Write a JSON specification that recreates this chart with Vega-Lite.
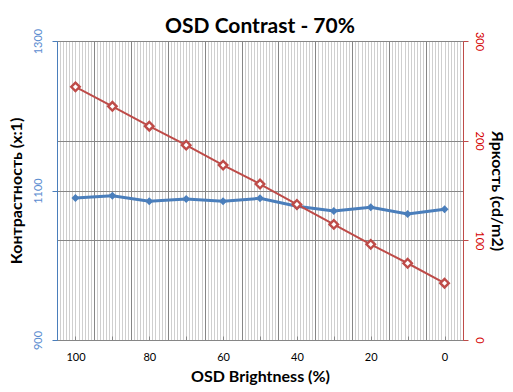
{
  "$schema": "https://vega.github.io/schema/vega-lite/v6.json",
  "width": 406,
  "height": 299,
  "autosize": {"type": "none"},
  "padding": {"left": 57, "top": 41, "right": 50, "bottom": 52},
  "background": "white",
  "title": {"text": "OSD Contrast - 70%", "font": "Lato", "fontSize": 21, "fontWeight": "bold", "color": "black", "offset": -9, "anchor": "middle"},
  "config": {"view": {"stroke": null}, "axis": {"labelFont": "Lato", "titleFont": "Lato", "labelFontSize": 11}},
  "data": {"values": [
    {"b": 100, "contrast": 1090, "brightness": 254},
    {"b": 90, "contrast": 1093, "brightness": 234.5},
    {"b": 80, "contrast": 1085.5, "brightness": 214.5},
    {"b": 70, "contrast": 1088.5, "brightness": 195.5},
    {"b": 60, "contrast": 1085.5, "brightness": 175.5},
    {"b": 50, "contrast": 1089.5, "brightness": 156.5},
    {"b": 40, "contrast": 1079, "brightness": 136},
    {"b": 30, "contrast": 1072.5, "brightness": 116},
    {"b": 20, "contrast": 1077.5, "brightness": 96},
    {"b": 10, "contrast": 1068.5, "brightness": 77},
    {"b": 0, "contrast": 1075, "brightness": 57}
  ]},
  "layer": [
    {
      "mark": {"type": "line", "color": "#4a7ebb", "strokeWidth": 3, "point": {"shape": "diamond", "size": 64, "filled": true, "color": "#4a7ebb"}},
      "encoding": {
        "x": {"field": "b", "type": "quantitative", "scale": {"domain": [-5, 105], "reverse": true, "nice": false, "zero": false},
          "axis": {"orient": "bottom", "grid": true, "gridColor": "#cfcfcf", "gridWidth": 1, "labels": false, "ticks": false, "domain": false, "title": null,
            "values": [-4.17,-3.33,-2.5,-1.67,-0.83,0,0.83,1.67,2.5,3.33,4.17,
              5.83,6.67,7.5,8.33,9.17,10,10.83,11.67,12.5,13.33,14.17,
              15.83,16.67,17.5,18.33,19.17,20,20.83,21.67,22.5,23.33,24.17,
              25.83,26.67,27.5,28.33,29.17,30,30.83,31.67,32.5,33.33,34.17,
              35.83,36.67,37.5,38.33,39.17,40,40.83,41.67,42.5,43.33,44.17,
              45.83,46.67,47.5,48.33,49.17,50,50.83,51.67,52.5,53.33,54.17,
              55.83,56.67,57.5,58.33,59.17,60,60.83,61.67,62.5,63.33,64.17,
              65.83,66.67,67.5,68.33,69.17,70,70.83,71.67,72.5,73.33,74.17,
              75.83,76.67,77.5,78.33,79.17,80,80.83,81.67,82.5,83.33,84.17,
              85.83,86.67,87.5,88.33,89.17,90,90.83,91.67,92.5,93.33,94.17,
              95.83,96.67,97.5,98.33,99.17,100,100.83,101.67,102.5,103.33,104.17]}},
        "y": {"field": "contrast", "type": "quantitative", "scale": {"domain": [900, 1300], "nice": false, "zero": false},
          "axis": {"orient": "left", "values": [900, 1100, 1300], "format": "d", "grid": true, "gridColor": "#868686", "labelAngle": 270, "labelColor": "#5b8cd0", "labelPadding": 9,
            "domainColor": "#4a7ebb", "tickColor": "#4a7ebb", "tickSize": 5,
            "title": "Контрастность (x:1)", "titleFontSize": 16, "titleFontWeight": "bold", "titleColor": "black", "titlePadding": 8}}
      }
    },
    {
      "mark": {"type": "line", "color": "#be4b48", "strokeWidth": 2, "point": {"shape": "diamond", "size": 72, "filled": true, "fill": "white", "stroke": "#be4b48", "strokeWidth": 2.4}},
      "encoding": {
        "x": {"field": "b", "type": "quantitative",
          "axis": {"orient": "bottom", "values": [105,100,95,90,85,80,75,70,65,60,55,50,45,40,35,30,25,20,15,10,5,0,-5],
            "grid": true, "gridColor": {"condition": {"test": "datum.value % 10 != 0", "value": "#868686"}, "value": "transparent"},
            "tickColor": {"condition": {"test": "datum.value % 10 == 0", "value": "#868686"}, "value": "transparent"},
            "tickSize": -4, "labelPadding": 15, "labelColor": "black",
            "labelExpr": "datum.value % 20 == 0 ? datum.label : ''",
            "domainColor": "#868686",
            "title": "OSD Brightness (%)", "titleFontSize": 16, "titleFontWeight": "bold", "titleColor": "black", "titlePadding": 6}},
        "y": {"field": "brightness", "type": "quantitative", "scale": {"domain": [0, 300], "nice": false, "zero": false},
          "axis": {"orient": "right", "values": [0, 100, 200, 300], "format": "d", "grid": true, "gridColor": "#868686", "labelAngle": 90, "labelColor": "#d40000", "labelPadding": 5,
            "domainColor": "#be4b48", "tickColor": "#be4b48", "tickSize": 5,
            "title": "Яркость (cd/m2)", "titleFontSize": 16, "titleFontWeight": "bold", "titleColor": "black", "titlePadding": 4}}
      }
    }
  ],
  "resolve": {"scale": {"y": "independent"}, "axis": {"x": "independent"}}
}
